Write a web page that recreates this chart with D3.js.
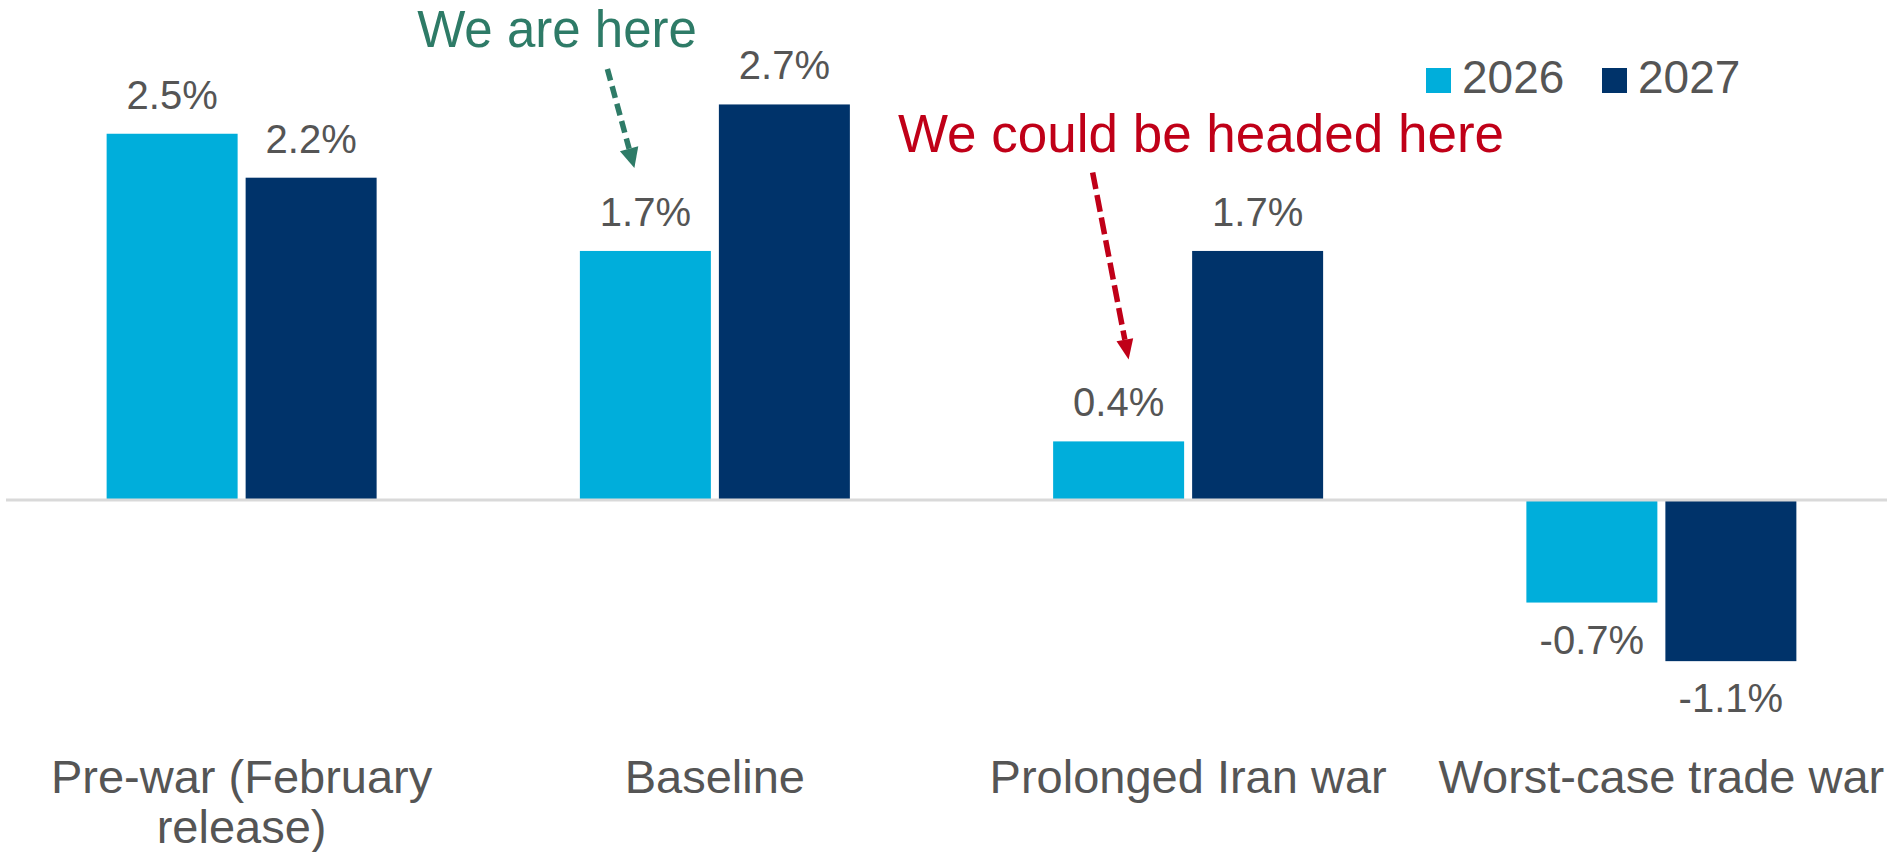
<!DOCTYPE html>
<html>
<head>
<meta charset="utf-8">
<script src="https://cdn.jsdelivr.net/npm/d3@7"></script>
<style>
  html, body { margin: 0; padding: 0; background: #ffffff; }
  svg { display: block; }
  text { font-family: "Liberation Sans", Arial, sans-serif; }
</style>
</head>
<body>
<svg id="chart" width="1887" height="852"></svg>
<script>
// GDP growth forecast by scenario
const categories = ["Pre-war (February release)", "Baseline", "Prolonged Iran war", "Worst-case trade war"];
const categoryLines = [["Pre-war (February", "release)"], ["Baseline"], ["Prolonged Iran war"], ["Worst-case trade war"]];
const seriesNames = ["2026", "2027"];
const values2026 = [2.5, 1.7, 0.4, -0.7];
const values2027 = [2.2, 2.7, 1.7, -1.1];
const seriesColors = ["#00AEDB", "#00336A"];

// Callouts pointing at a given bar
const callouts = [
  { text: "We are here", category: "Baseline", series: "2026", color: "#2E7B67" },
  { text: "We could be headed here", category: "Prolonged Iran war", series: "2026", color: "#C00018" }
];

const W = 1887, H = 852;
const svg = d3.select("#chart");

const x0 = d3.scaleBand()
  .domain(categories)
  .range([5, 1898])
  .paddingInner(0.4295)
  .paddingOuter(0.21475);

const x1 = d3.scaleBand()
  .domain(seriesNames)
  .range([0, x0.bandwidth()])
  .paddingInner(0.0576);

const y = d3.scaleLinear()
  .domain([-2, 3])
  .range([500 + 2 * 146.5, 500 - 3 * 146.5]);

const rows = categories.map((c, i) => ({
  category: c,
  values: [
    { series: "2026", value: values2026[i] },
    { series: "2027", value: values2027[i] }
  ]
}));

const color = d3.scaleOrdinal().domain(seriesNames).range(seriesColors);
const pct = v => v.toFixed(1) + "%";

// Bars
const groups = svg.append("g").selectAll("g")
  .data(rows)
  .join("g")
  .attr("transform", d => `translate(${x0(d.category)},0)`);

groups.selectAll("rect")
  .data(d => d.values)
  .join("rect")
  .attr("x", d => x1(d.series))
  .attr("width", x1.bandwidth())
  .attr("y", d => y(Math.max(0, d.value)))
  .attr("height", d => Math.abs(y(d.value) - y(0)))
  .attr("fill", d => color(d.series));

// Zero line
svg.append("line")
  .attr("x1", 6).attr("x2", W)
  .attr("y1", y(0)).attr("y2", y(0))
  .attr("stroke", "#D9D9D9")
  .attr("stroke-width", 3);

// Value labels
groups.selectAll("text.value")
  .data(d => d.values)
  .join("text")
  .attr("class", "value")
  .attr("x", d => x1(d.series) + x1.bandwidth() / 2)
  .attr("y", d => d.value >= 0 ? y(d.value) - 25 : y(d.value) + 51)
  .attr("text-anchor", "middle")
  .attr("font-size", 40)
  .attr("fill", "#555555")
  .text(d => pct(d.value));

// Category labels
const catLabels = svg.append("g").selectAll("text")
  .data(categories)
  .join("text")
  .attr("x", d => x0(d) + x0.bandwidth() / 2)
  .attr("y", 793)
  .attr("text-anchor", "middle")
  .attr("font-size", 47)
  .attr("fill", "#555555");

catLabels.selectAll("tspan")
  .data((d, i) => categoryLines[i])
  .join("tspan")
  .attr("x", function () { return this.parentNode.getAttribute("x"); })
  .attr("dy", (d, i) => i === 0 ? 0 : 50)
  .text(d => d);

// Legend
const legend = svg.append("g").attr("transform", "translate(1426,68)");
const legendItems = legend.selectAll("g")
  .data(seriesNames)
  .join("g")
  .attr("transform", (d, i) => `translate(${i * 176},0)`);
legendItems.append("rect")
  .attr("width", 25).attr("height", 25)
  .attr("fill", d => color(d));
legendItems.append("text")
  .attr("x", 36).attr("y", 25)
  .attr("font-size", 46)
  .attr("fill", "#555555")
  .text(d => d);

// Callout arrows and text
function barTop(cat, ser) {
  const i = categories.indexOf(cat);
  const v = ser === "2026" ? values2026[i] : values2027[i];
  return { cx: x0(cat) + x1(ser) + x1.bandwidth() / 2, ty: y(v) };
}

function drawArrow(x1a, y1a, x2a, y2a, col, dash, headLen, headW) {
  const dx = x2a - x1a, dy = y2a - y1a;
  const len = Math.hypot(dx, dy);
  const ux = dx / len, uy = dy / len;
  const bx = x2a - ux * headLen, by = y2a - uy * headLen;
  svg.append("line")
    .attr("x1", x1a).attr("y1", y1a)
    .attr("x2", bx).attr("y2", by)
    .attr("stroke", col)
    .attr("stroke-width", 5.5)
    .attr("stroke-dasharray", dash);
  const px = -uy, py = ux;
  svg.append("path")
    .attr("d", d3.line()([
      [x2a, y2a],
      [bx + px * headW / 2, by + py * headW / 2],
      [bx - px * headW / 2, by - py * headW / 2]
    ]) + "Z")
    .attr("fill", col);
}

// "We are here"
{
  const c = callouts[0];
  const b = barTop(c.category, c.series);
  svg.append("text")
    .attr("x", 557).attr("y", 47)
    .attr("text-anchor", "middle")
    .attr("font-size", 51)
    .attr("fill", c.color)
    .text(c.text);
  drawArrow(b.cx - 38, b.ty - 182, b.cx - 11, b.ty - 83, c.color, "12,6", 20, 19);
}

// "We could be headed here"
{
  const c = callouts[1];
  const b = barTop(c.category, c.series);
  svg.append("text")
    .attr("x", 898).attr("y", 152)
    .attr("text-anchor", "start")
    .attr("font-size", 53)
    .attr("fill", c.color)
    .text(c.text);
  drawArrow(b.cx - 26, b.ty - 269, b.cx + 10, b.ty - 82, c.color, "17,6", 20, 17);
}
</script>
</body>
</html>
